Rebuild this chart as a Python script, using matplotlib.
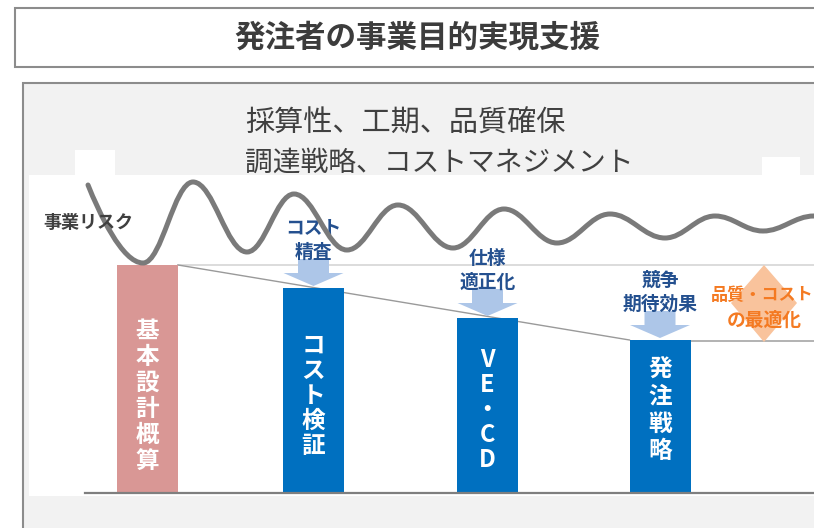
import numpy as np
import matplotlib.pyplot as plt
from matplotlib.patches import Rectangle, Polygon, FancyArrow, PathPatch
from matplotlib.path import Path

plt.rcParams['font.family'] = ['Noto Sans CJK JP', 'DejaVu Sans']

# data (pixel units of the 814x528 image)
title = '発注者の事業目的実現支援'
subtitle = ['採算性、工期、品質確保', '調達戦略、コストマネジメント']

bar_labels = [list('基本設計概算'), list('コスト検証'), ['V', 'E', '・', 'C', 'D'], list('発注戦略')]
bar_x = [147.5, 313.5, 487.5, 660]
cost_level = [228, 205, 175, 153]          # height above the baseline
bar_colors = ['#d99795', '#0070c0', '#0070c0', '#0070c0']

step_labels = ['コスト\n精査', '仕様\n適正化', '競争\n期待効果']
goal_label = ['品質・コスト', 'の最適化']

# business risk wave: start point then peaks / troughs
risk_x = [88, 143, 193, 247, 294, 347, 398, 453, 504, 557, 610, 665, 715, 763, 814]
risk_y = [185, 263, 182, 252, 194, 250, 205, 248, 209, 243, 214, 238, 216, 231, 216]

BASE = 493
BAR_W = 61

fig = plt.figure(figsize=(8.14, 5.28), dpi=100)
ax = fig.add_axes([0, 0, 1, 1])
ax.set_xlim(0, 814)
ax.set_ylim(528, 0)
ax.axis('off')

# frames
ax.add_patch(Rectangle((15, 8), 830, 59, fc='white', ec='#8c8c8c', lw=1.5))
ax.text(417, 38, title, ha='center', va='center', fontsize=22, fontweight='bold', color='#3c3c3c')
ax.add_patch(Rectangle((23, 83), 830, 500, fc='#f2f2f2', ec='#8c8c8c', lw=1.5))
ax.add_patch(Rectangle((29, 175), 800, 321, fc='white', ec='none'))
ax.add_patch(Rectangle((75, 150), 40, 26, fc='white', ec='none'))
ax.add_patch(Rectangle((762, 157), 38, 19, fc='white', ec='none'))

ax.text(245, 124, subtitle[0], ha='left', va='center', fontsize=21, color='#404040')
ax.text(245, 163, subtitle[1], ha='left', va='center', fontsize=20, color='#404040')

# reference lines
tops = [BASE - c for c in cost_level]
ax.plot([bar_x[0] + BAR_W / 2, 814], [tops[0], tops[0]], color='#d6d6d6', lw=1.2, zorder=2)
ax.plot([bar_x[0] + BAR_W / 2, bar_x[3] - BAR_W / 2], [tops[0], tops[3]], color='#9a9a9a', lw=1, zorder=2)
ax.plot([bar_x[3], 814], [tops[3] + 1, tops[3] + 1], color='#a6a6a6', lw=1.2, zorder=2)

# diamond goal
ax.add_patch(Polygon([(764, 265), (797, 303), (764, 342), (731, 303)], closed=True,
                     fc='#f9c39c', ec='none', zorder=3))
ax.text(762, 295, goal_label[0], ha='center', va='center', fontsize=12.3, fontweight='bold', color='#f47a22', zorder=4)
ax.text(764, 320, goal_label[1], ha='center', va='center', fontsize=13.5, fontweight='bold', color='#f47a22', zorder=4)

# bars
ax.bar(bar_x, cost_level, bottom=tops, width=BAR_W, color=bar_colors, zorder=3)
ax.plot([85, 814], [BASE, BASE], color='#7f7f7f', lw=1.6, zorder=4)

starts = [331, 346, 360, 369]
steps = [26, 25, 25, 27.5]
for chars, x, y0, dy in zip(bar_labels, bar_x, starts, steps):
    for i, ch in enumerate(chars):
        ax.text(x, y0 + i * dy, ch, ha='center', va='center', fontsize=17,
                fontweight='bold', color='white', zorder=5)

# arrows and step labels
for lab, x, top in zip(step_labels, bar_x[1:], tops[1:]):
    ax.add_patch(FancyArrow(x, top - 29, 0, 27, width=31, head_width=60, head_length=13,
                            length_includes_head=True, fc='#adc6e8', ec='none', zorder=4))
    lines = lab.split('\n')
    ax.text(x, top - 60, lines[0], ha='center', va='center', fontsize=13.5,
            fontweight='bold', color='#24508f', zorder=5)
    ax.text(x, top - 36, lines[1], ha='center', va='center', fontsize=13.5,
            fontweight='bold', color='#24508f', zorder=5)

# risk wave, smooth segments between the extrema
verts = [(risk_x[0], risk_y[0])]
codes = [Path.MOVETO]
for i in range(1, len(risk_x)):
    x0, y0, x1, y1 = risk_x[i - 1], risk_y[i - 1], risk_x[i], risk_y[i]
    dx = x1 - x0
    if i == 1:
        c1 = (x0 + 0.2 * dx, y0 + 0.35 * (y1 - y0))
    else:
        c1 = (x0 + 0.38 * dx, y0)
    verts += [c1, (x1 - 0.38 * dx, y1), (x1, y1)]
    codes += [Path.CURVE4] * 3
ax.add_patch(PathPatch(Path(verts, codes), fill=False, ec='#7a7a7a', lw=3.6,
                       capstyle='round', zorder=6))
ax.text(88, 222, '事業リスク', ha='center', va='center', fontsize=13, fontweight='bold',
        color='#3f3f3f', zorder=7)

fig.savefig('out.png', dpi=100)
